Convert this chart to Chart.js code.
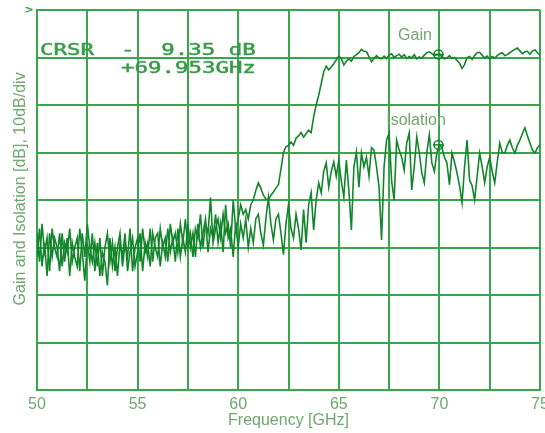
<!DOCTYPE html>
<html>
<head>
<meta charset="utf-8">
<script src="https://cdn.jsdelivr.net/npm/chart.js@4.4.1/dist/chart.umd.min.js"></script>
<style>
html,body{margin:0;padding:0;background:#ffffff;overflow:hidden;width:545px;height:433px}
#wrap{width:560px;height:433px}
</style>
</head>
<body>
<div id="wrap"><canvas id="c" width="560" height="433"></canvas></div>
<script>
// Sweep frequencies (GHz)
const FREQ_GHZ = [
50,50.125,50.25,50.375,50.5,50.625,50.75,50.875,
51,51.125,51.25,51.375,51.5,51.625,51.75,51.875,
52,52.125,52.25,52.375,52.5,52.625,52.75,52.875,
53,53.125,53.25,53.375,53.5,53.625,53.75,53.875,
54,54.125,54.25,54.375,54.5,54.625,54.75,54.875,
55,55.125,55.25,55.375,55.5,55.625,55.75,55.875,
56,56.125,56.25,56.375,56.5,56.625,56.75,56.875,
57,57.125,57.25,57.375,57.5,57.625,57.75,57.875,
58,58.125,58.25,58.375,58.5,58.625,58.75,58.875,
59,59.125,59.25,59.375,59.5,59.625,59.75,59.875,
60,60.125,60.25,60.375,60.5,60.625,60.75,60.875,
61,61.125,61.25,61.375,61.5,61.625,61.75,61.875,
62,62.125,62.25,62.375,62.5,62.625,62.75,62.875,
63,63.125,63.25,63.375,63.5,63.625,63.75,63.875,
64,64.125,64.25,64.375,64.5,64.625,64.75,64.875,
65,65.125,65.25,65.375,65.5,65.625,65.75,65.875,
66,66.125,66.25,66.375,66.5,66.625,66.75,66.875,
67,67.125,67.25,67.375,67.5,67.625,67.75,67.875,
68,68.125,68.25,68.375,68.5,68.625,68.75,68.875,
69,69.125,69.25,69.375,69.5,69.625,69.75,69.875,
70,70.125,70.25,70.375,70.5,70.625,70.75,70.875,
71,71.125,71.25,71.375,71.5,71.625,71.75,71.875,
72,72.125,72.25,72.375,72.5,72.625,72.75,72.875,
73,73.125,73.25,73.375,73.5,73.625,73.75,73.875,
74,74.125,74.25,74.375,74.5,74.625,74.75,74.875,
75
];

// Gain trace (dB) (10 dB/div, top line = 0 dB)
const GAIN_DB = [
-47,-53,-45,-51,-48,-55,-46,-50,
-52,-47,-54,-49,-51,-46,-53,-50,
-48,-55,-47,-52,-45,-50,-53,-49,
-54,-48,-56,-50,-47,-53,-49,-55,
-50,-47,-54,-49,-52,-46,-55,-50,
-48,-53,-46,-51,-49,-54,-47,-50,
-52,-46,-50,-48,-53,-45,-49,-47,
-51,-45,-49,-44,-50,-47,-52,-46,
-48,-43,-50,-45,-47,-39.5,-49,-46,
-44,-48,-43,-47,-45,-50,-40,-46,
-44,-41,-43,-42,-44,-41,-40,-38,
-36.4,-37.5,-39,-39.8,-40,-39,-38.3,-37.5,
-36.8,-33.5,-30,-28.8,-28.5,-27.8,-28.5,-27,
-26.5,-25.8,-26.8,-26,-25.3,-25.8,-22.5,-20,
-18,-15.5,-13,-11.8,-12.6,-12,-11.3,-10.5,
-9.7,-10.2,-11.6,-10.8,-10.3,-10.8,-9.8,-9.4,
-9.0,-8.3,-8.7,-8.8,-9.8,-10.9,-10.2,-9.6,
-10.1,-10.3,-9.7,-10.2,-9.5,-9.2,-10.0,-9.6,
-9.3,-9.9,-9.4,-10.2,-9.8,-10.1,-9.4,-10.3,
-9.9,-10.1,-9.5,-9.0,-8.8,-9.2,-9.6,-9.4,
-9.35,-9.8,-10.3,-10.1,-9.6,-10.2,-10.0,-10.6,
-11.2,-12.3,-11.5,-10.0,-9.8,-10.4,-9.6,-9.0,
-8.9,-9.5,-10.1,-9.7,-10.3,-9.8,-10.1,-9.6,
-9.2,-9.0,-9.6,-9.4,-9.0,-8.6,-8.3,-8.0,
-8.6,-9.2,-8.8,-8.7,-9.3,-8.6,-8.4,-9.0,
-9.5
];

// Isolation trace (dB)
const ISOLATION_DB = [
-52,-46,-54,-49,-56,-47,-52,-48,
-50,-55,-47,-53,-48,-56,-49,-52,
-54,-46,-51,-57,-49,-53,-47,-55,
-49,-56,-51,-53,-58,-48,-54,-50,
-56,-49,-52,-47,-55,-51,-48,-54,
-51,-47,-55,-49,-52,-46,-53,-48,
-47,-54,-49,-52,-46,-51,-48,-53,
-46,-52,-48,-51,-45,-50,-47,-52,
-45,-50,-47,-44,-51,-46,-48,-43,
-49,-45,-51,-41,-48,-46,-52,-45,
-50,-45,-48,-44,-50,-46,-49,-44,
-43,-47,-49.5,-44,-39.5,-45,-48.4,-44,
-43,-47,-51.5,-45,-41,-46,-48,-43,
-46,-50.5,-42,-49,-41,-38.5,-46.3,-40,
-36.4,-38.5,-34,-32.2,-37.3,-34,-32,-35,
-31.6,-36,-39.4,-31.6,-38,-46.3,-33,-29.9,
-37.3,-30.1,-33,-31,-35,-29,-29.5,-33,
-37.3,-48.4,-33,-27.4,-25.9,-36,-40,-27.4,
-29.5,-31,-33.7,-28,-25.9,-37.9,-33,-26.7,
-30,-34.3,-36.4,-30,-26.3,-32.2,-34,-30,
-28.4,-29,-31,-32.2,-36.8,-30.1,-32,-34.3,
-37,-40.6,-33,-27.4,-35.8,-37,-40,-35,
-30.1,-33,-36.4,-33,-31,-34,-36.4,-32,
-28,-30,-30.1,-28.5,-27.4,-29,-30.1,-28.5,
-27.4,-26,-24.8,-26.5,-28,-29.5,-30.1,-29,
-28.4
];

const X_TICK_LABELS = [50, 55, 60, 65, 70, 75];
const SERIES_NAMES = ['Gain', 'Isolation'];
const CURSOR_FREQ = 69.953;
const CURSOR_GAIN_DB = -9.35;
const CURSOR_ISO_DB = -28.4;
const READOUT_LINES = ['CRSR  -  9.35 dB', '+69.953GHz'];
const X_TITLE = 'Frequency [GHz]';
const Y_TITLE = '     Gain and Isolation [dB], 10dB/div';

const GRID = '#38a64c';
const TRACE = '#13852a';
const TEXT = '#6ea86e';
const LCD = '#379c48';

const toXY = arr => FREQ_GHZ.map((f, i) => ({x: f, y: arr[i]}));

const annot = {
  id: 'annot',
  afterDraw(chart) {
    const ctx = chart.ctx;
    const ca = chart.chartArea;
    ctx.save();
    ctx.fillStyle = LCD;
    ctx.strokeStyle = LCD;
    ctx.lineWidth = 0.5;
    ctx.font = '16px "DejaVu Sans Mono"';
    ctx.textBaseline = 'alphabetic';
    ctx.textAlign = 'left';
    ctx.save(); ctx.translate(ca.left + 3, 55); ctx.scale(1.4, 1);
    ctx.fillText(READOUT_LINES[0], 0, 0); ctx.strokeText(READOUT_LINES[0], 0, 0); ctx.restore();
    ctx.save(); ctx.translate(ca.left + 84, 73); ctx.scale(1.4, 1);
    ctx.fillText(READOUT_LINES[1], 0, 0); ctx.strokeText(READOUT_LINES[1], 0, 0); ctx.restore();
    ctx.fillStyle = TEXT;
    ctx.font = '16px "Liberation Sans", Arial, sans-serif';
    ctx.textAlign = 'center';
    ctx.fillText(SERIES_NAMES[0], 415, 40);
    ctx.fillText(SERIES_NAMES[1], 416, 125);
    ctx.fillStyle = LCD;
    ctx.font = 'bold 11px "DejaVu Sans", sans-serif';
    ctx.fillText('>', 29, 13);
    ctx.restore();
  }
};

new Chart(document.getElementById('c'), {
  type: 'line',
  data: {
    datasets: [
      {label: SERIES_NAMES[0], data: toXY(GAIN_DB), borderColor: TRACE, borderWidth: 1.6, pointRadius: 0, tension: 0, fill: false},
      {label: SERIES_NAMES[1], data: toXY(ISOLATION_DB), borderColor: TRACE, borderWidth: 1.6, pointRadius: 0, tension: 0, fill: false},
      {label: 'cursor', data: [{x: CURSOR_FREQ, y: CURSOR_GAIN_DB}, {x: CURSOR_FREQ, y: CURSOR_ISO_DB}], showLine: false,
       pointStyle: 'circle', pointRadius: 4.5, borderColor: TRACE, borderWidth: 1.5, backgroundColor: 'rgba(0,0,0,0)'},
      {label: 'cursor2', data: [{x: CURSOR_FREQ, y: CURSOR_GAIN_DB}, {x: CURSOR_FREQ, y: CURSOR_ISO_DB}], showLine: false,
       pointStyle: 'line', pointRadius: 5.5, borderColor: TRACE, borderWidth: 1.5}
    ]
  },
  options: {
    responsive: false,
    animation: false,
    devicePixelRatio: 1,
    layout: {padding: {top: 10, right: 20, left: 0, bottom: 0}},
    plugins: {legend: {display: false}, tooltip: {enabled: false}},
    scales: {
      x: {
        type: 'linear', min: 50, max: 75,
        ticks: {
          stepSize: 2.5, autoSkip: false, maxRotation: 0, padding: 5,
          color: TEXT, font: {family: '"Liberation Sans", Arial, sans-serif', size: 16},
          callback: v => X_TICK_LABELS.includes(v) ? String(v) : ''
        },
        grid: {color: GRID, lineWidth: 2, drawTicks: false},
        border: {color: GRID, width: 2},
        title: {display: true, text: X_TITLE, color: TEXT, font: {family: '"Liberation Sans", Arial, sans-serif', size: 16}, padding: {top: 0, bottom: 3}},
        afterFit: s => { s.height = 43; }
      },
      y: {
        min: -80, max: 0,
        ticks: {stepSize: 10, display: false},
        grid: {color: GRID, lineWidth: 2, drawTicks: false},
        border: {color: GRID, width: 2},
        title: {display: true, text: Y_TITLE, color: TEXT, font: {family: '"Liberation Sans", Arial, sans-serif', size: 16}, padding: {top: 11, bottom: 0}},
        afterFit: s => { s.width = 37; }
      }
    }
  },
  plugins: [annot]
});
</script>
</body>
</html>
